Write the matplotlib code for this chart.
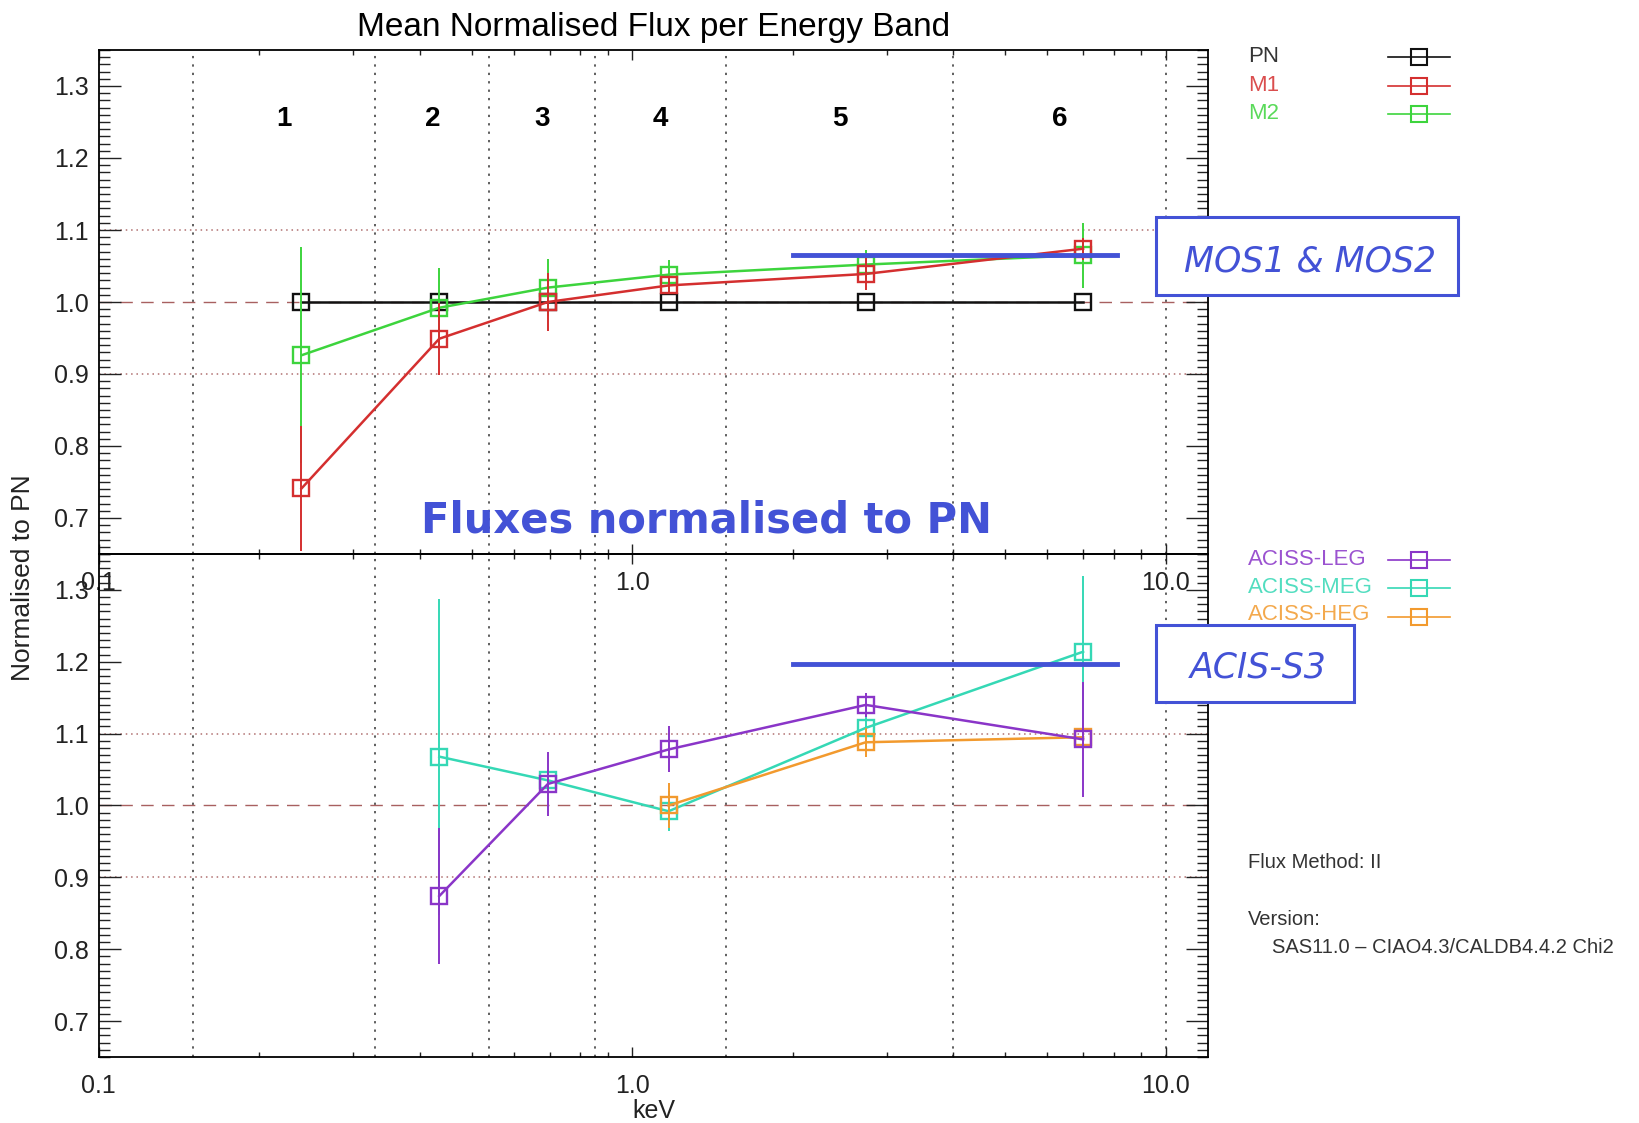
import matplotlib
matplotlib.use('Agg')
import matplotlib.pyplot as plt
import numpy as np
from matplotlib.lines import Line2D
from matplotlib.patches import Rectangle
from matplotlib.ticker import (FixedLocator, FixedFormatter, LogLocator,
                               MultipleLocator, NullFormatter, FormatStrFormatter)

plt.rcParams['font.family'] = ['Liberation Sans', 'DejaVu Sans']

# energy bands (keV) and where the points sit
band_edges = [0.15, 0.33, 0.54, 0.85, 1.5, 4.0, 10.0]
band_names = ['1', '2', '3', '4', '5', '6']
energy = [0.24, 0.435, 0.695, 1.17, 2.74, 7.0]

# XMM EPIC, normalised to PN
pn = [1.0, 1.0, 1.0, 1.0, 1.0, 1.0]
m1 = [0.741, 0.949, 1.0, 1.023, 1.039, 1.074]
m1_err = [0.087, 0.05, 0.04, 0.012, 0.022, 0.015]
m2 = [0.926, 0.992, 1.02, 1.038, 1.052, 1.065]
m2_err = [0.15, 0.055, 0.04, 0.02, 0.02, 0.045]

# Chandra ACIS-S gratings (nan = no value in that band)
nan = np.nan
leg = [nan, 0.874, 1.03, 1.078, 1.14, 1.092]
leg_err = [nan, 0.095, 0.045, 0.032, 0.017, 0.08]
meg = [nan, 1.068, 1.035, 0.992, 1.108, 1.214]
meg_err = [nan, 0.22, 0.012, 0.028, 0.03, 0.105]
heg = [nan, nan, nan, 1.0, 1.088, 1.095]
heg_err = [nan, nan, nan, 0.032, 0.02, 0.012]

top_names = ['PN', 'M1', 'M2']
top_colors = ['#111111', '#d42f2f', '#3dd43d']
low_names = ['ACISS-LEG', 'ACISS-MEG', 'ACISS-HEG']
low_colors = ['#8a35c8', '#35d8b5', '#f29a2e']

# overlay annotations
blue = '#4352d6'
bar_span = [2.0, 8.1]
mos_level = 1.065
acis_level = 1.197

W, H = 1640, 1123
fig = plt.figure(figsize=(W / 100, H / 100), dpi=100)
ax1 = fig.add_axes([98.6 / W, 1 - 554 / H, (1208 - 98.6) / W, 504 / H])
ax2 = fig.add_axes([98.6 / W, 1 - 1057 / H, (1208 - 98.6) / W, 503 / H])
ax2.patch.set_visible(False)


def setup(ax):
    ax.set_xscale('log')
    ax.set_xlim(0.1, 12)
    ax.set_ylim(0.65, 1.35)
    ax.xaxis.set_major_locator(FixedLocator([0.1, 1.0, 10.0]))
    ax.xaxis.set_major_formatter(FixedFormatter(['0.1', '1.0', '10.0']))
    ax.xaxis.set_minor_locator(LogLocator(base=10, subs=np.arange(2, 10), numticks=20))
    ax.xaxis.set_minor_formatter(NullFormatter())
    ax.yaxis.set_major_locator(MultipleLocator(0.1))
    ax.yaxis.set_minor_locator(MultipleLocator(0.01))
    ax.yaxis.set_major_formatter(FormatStrFormatter('%.1f'))
    ax.tick_params(which='both', direction='in', top=True, right=True, color='#222222')
    ax.tick_params(axis='y', which='major', length=16, width=1, labelsize=18,
                   labelcolor='#222222', pad=7)
    ax.tick_params(axis='y', which='minor', length=8, width=1)
    ax.tick_params(axis='x', which='major', length=7, width=1, labelsize=18,
                   labelcolor='#222222', pad=12)
    ax.tick_params(axis='x', which='minor', length=3.5, width=1)
    for s in ax.spines.values():
        s.set_linewidth(1.3)
    for e in band_edges:
        ax.axvline(e, color='#333333', ls=(0, (1.5, 4)), lw=1.1, zorder=1)
    ax.axhline(0.9, color='#b07070', ls=(0, (1, 2.5)), lw=1.1, zorder=1)
    ax.axhline(1.1, color='#b07070', ls=(0, (1, 2.5)), lw=1.1, zorder=1)
    ax.axhline(1.0, color='#a86060', ls=(0, (9, 6)), lw=1.0, zorder=1)


def series(ax, y, err, c, z):
    ax.errorbar(energy, y, yerr=err, color=c, lw=1.8, elinewidth=1.4, marker='s',
                ms=11, mfc='none', mec=c, mew=1.7, capsize=0, zorder=z)


setup(ax1)
setup(ax2)

series(ax1, pn, None, top_colors[0], 3)
series(ax1, m2, m2_err, top_colors[2], 4)
series(ax1, m1, m1_err, top_colors[1], 5)

series(ax2, meg, meg_err, low_colors[1], 3)
series(ax2, heg, heg_err, low_colors[2], 4)
series(ax2, leg, leg_err, low_colors[0], 5)

# band numbers at the middle of each band
for i, n in enumerate(band_names):
    mid = np.sqrt(band_edges[i] * band_edges[i + 1])
    ax1.text(mid, 1.244, n, fontsize=20, fontweight='bold', ha='center', va='baseline')

ax1.set_title('Mean Normalised Flux per Energy Band', fontsize=24, pad=10)
fig.text(23 / W, 1 - 578 / H, 'Normalised to PN', rotation=90, fontsize=19,
         color='#222222', ha='center', va='center')
fig.text(654 / W, 1 - 1118 / H, 'keV', fontsize=18, color='#222222',
         ha='center', va='baseline')


def legend(names, colors, text_base, sym_y):
    for n, c, tb, sy in zip(names, colors, text_base, sym_y):
        fig.text(1248 / W, 1 - tb / H, n, color=c, alpha=0.85, fontsize=16, va='baseline')
        fig.add_artist(Line2D([1388 / W, 1450 / W], [1 - sy / H] * 2, color=c, lw=1.2))
        fig.add_artist(Line2D([1419 / W], [1 - sy / H], marker='s', ms=11, mfc='none',
                              mec=c, mew=1.5))


legend(top_names, top_colors, [61.7, 90.7, 119], [56.7, 86, 114])
legend(low_names, low_colors, [565, 592.7, 620], [560, 588, 616.7])

fig.text(1248 / W, 1 - 868 / H, 'Flux Method: II', fontsize=14.5, color='#333333')
fig.text(1248 / W, 1 - 925 / H, 'Version:', fontsize=14.5, color='#333333')
fig.text(1272 / W, 1 - 953 / H, 'SAS11.0 \u2013 CIAO4.3/CALDB4.4.2 Chi2', fontsize=14.5,
         color='#333333')

# blue overlay: level bars, boxes and caption
ax1.plot(bar_span, [mos_level] * 2, color=blue, lw=3.5, zorder=6)
ax2.plot(bar_span, [acis_level] * 2, color=blue, lw=3.5, zorder=6)

fig.add_artist(Rectangle((1156 / W, 1 - 295 / H), 302 / W, 78 / H, transform=fig.transFigure,
                         facecolor='white', edgecolor=blue, lw=2.2, zorder=5))
fig.add_artist(Rectangle((1156 / W, 1 - 702 / H), 198 / W, 77 / H, transform=fig.transFigure,
                         facecolor='white', edgecolor=blue, lw=2.2, zorder=5))
fig.text(1310 / W, 1 - 271.7 / H, 'MOS1 & MOS2', fontsize=25, style='italic', color=blue,
         family='DejaVu Sans', ha='center', va='baseline', zorder=6)
fig.text(1258 / W, 1 - 678 / H, 'ACIS-S3', fontsize=25, style='italic', color=blue,
         family='DejaVu Sans', ha='center', va='baseline', zorder=6)
fig.text(707 / W, 1 - 533 / H, 'Fluxes normalised to PN', fontsize=30, fontweight='bold',
         color=blue, family='DejaVu Sans', ha='center', va='baseline', zorder=6)

fig.savefig('out.png', dpi=100)
